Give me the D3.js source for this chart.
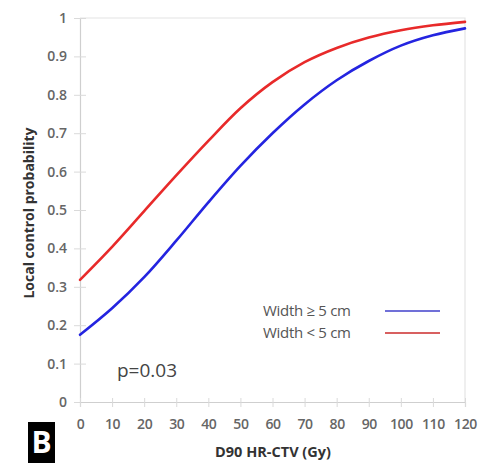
<!DOCTYPE html>
<html>
<head>
<meta charset="utf-8">
<script src="https://cdn.jsdelivr.net/npm/d3@7"></script>
<style>
  html, body { margin: 0; padding: 0; background: #fff; }
  svg { display: block; }
  text { font-family: "Open Sans", "Noto Sans", sans-serif; }
</style>
</head>
<body>
<svg id="chart" width="479" height="466"></svg>
<script>
// Dose levels (Gy) at which the probability curves are tabulated
const doses = [0, 10, 20, 30, 40, 50, 60, 70, 80, 90, 100, 110, 120];
// Local control probability, tumour width >= 5 cm
const wideWidth = [0.175, 0.244, 0.325, 0.42, 0.52, 0.615, 0.70, 0.775, 0.838, 0.888, 0.928, 0.955, 0.973];
// Local control probability, tumour width < 5 cm
const narrowWidth = [0.318, 0.404, 0.497, 0.59, 0.68, 0.765, 0.833, 0.885, 0.922, 0.949, 0.968, 0.981, 0.99];
// Axis ticks
const xTicks = [0, 10, 20, 30, 40, 50, 60, 70, 80, 90, 100, 110, 120];
const yTicks = [0, 0.1, 0.2, 0.3, 0.4, 0.5, 0.6, 0.7, 0.8, 0.9, 1];
const seriesNames = ["Width \u2265 5 cm", "Width < 5 cm"];
const seriesColors = ["#2424e0", "#e82a2a"];
const legendColors = ["#7070d8", "#d86060"];

const svg = d3.select("#chart");
const plotL = 80, plotR = 465, plotT = 18, plotB = 402;

const x = d3.scaleLinear().domain([0, 120]).range([plotL, plotR]);
const y = d3.scaleLinear().domain([0, 1]).range([plotB, plotT]);

// Plot frame (top and right edges)
svg.append("path")
  .attr("d", `M${plotL},${plotT}H${plotR}V${plotB}`)
  .attr("fill", "none")
  .attr("stroke", "#e4e4e4")
  .attr("stroke-width", 1.2);

// Y axis
const yAxis = svg.append("g")
  .attr("transform", `translate(${plotL},0)`)
  .call(d3.axisLeft(y).tickValues(yTicks)
    .tickSize(6).tickPadding(8)
    .tickFormat(d => d === 0 ? "0" : d === 1 ? "1" : d.toFixed(1)));
yAxis.select(".domain").attr("stroke", "#cfcfcf").attr("stroke-width", 1.2);
yAxis.selectAll(".tick line").attr("stroke", "#dadada").attr("x2", 6).attr("x1", -6);
yAxis.selectAll(".tick text")
  .attr("x", -13)
  .attr("fill", "#666").attr("font-size", 14).attr("font-weight", 600);

// X axis
const xAxis = svg.append("g")
  .attr("transform", `translate(0,${plotB})`)
  .call(d3.axisBottom(x).tickValues(xTicks)
    .tickSize(5).tickPadding(12)
    .tickFormat(d3.format("d")));
xAxis.select(".domain").attr("stroke", "#cfcfcf").attr("stroke-width", 1.2);
xAxis.selectAll(".tick line").attr("stroke", "#dadada").attr("y1", -4).attr("y2", 5);
xAxis.selectAll(".tick text")
  .attr("fill", "#666").attr("font-size", 14).attr("font-weight", 600)
  .attr("letter-spacing", -0.4);

// Axis titles
svg.append("text")
  .attr("transform", "translate(34,213) rotate(-90)")
  .attr("text-anchor", "middle")
  .attr("font-size", 14).attr("font-weight", 700).attr("fill", "#333")
  .text("Local control probability");

svg.append("text")
  .attr("x", 273).attr("y", 457)
  .attr("text-anchor", "middle")
  .attr("font-size", 14.5).attr("font-weight", 700).attr("fill", "#333")
  .text("D90 HR-CTV (Gy)");

// Curves
const line = d3.line()
  .x(d => x(d[0]))
  .y(d => y(d[1]))
  .curve(d3.curveCatmullRom.alpha(0.5));

[wideWidth, narrowWidth].forEach((vals, i) => {
  svg.append("path")
    .datum(doses.map((d, j) => [d, vals[j]]))
    .attr("d", line)
    .attr("fill", "none")
    .attr("stroke", seriesColors[i])
    .attr("stroke-width", 2.6)
    .attr("stroke-linecap", "round");
});

// Legend
seriesNames.forEach((name, i) => {
  const ly = 311 + i * 22;
  svg.append("text")
    .attr("x", 263).attr("y", ly + 5)
    .attr("font-size", 15).attr("fill", "#555")
    .attr("letter-spacing", -0.3)
    .text(name);
  svg.append("line")
    .attr("x1", 385).attr("x2", 440)
    .attr("y1", ly).attr("y2", ly)
    .attr("stroke", legendColors[i]).attr("stroke-width", 1.8);
});

// Significance label
svg.append("text")
  .attr("x", 117).attr("y", 377)
  .attr("font-size", 19).attr("fill", "#444")
  .text("p=0.03");

// Panel letter
svg.append("rect")
  .attr("x", 28).attr("y", 422).attr("width", 27).attr("height", 41)
  .attr("fill", "#000");
svg.append("text")
  .attr("x", 41.5).attr("y", 453)
  .attr("text-anchor", "middle")
  .attr("font-size", 30).attr("font-weight", 700).attr("fill", "#fff")
  .attr("font-family", "Liberation Sans, Arial, sans-serif")
  .text("B");
</script>
</body>
</html>
